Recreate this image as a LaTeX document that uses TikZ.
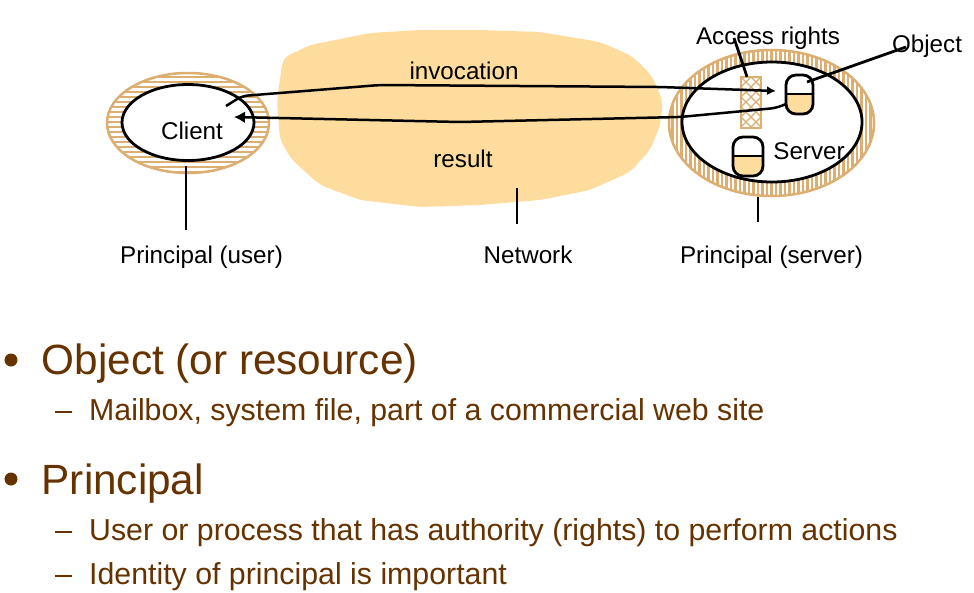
\documentclass[tikz,border=0pt]{standalone}
\usepackage{fontspec}
\setmainfont{Liberation Sans}
\usetikzlibrary{arrows.meta,calc}
\definecolor{tan1}{HTML}{DDAE72}
\definecolor{net}{HTML}{FDDC9E}
\definecolor{brown1}{HTML}{663300}
\tikzset{
  x=1pt,y=-1pt,
  lbl/.style={inner sep=0pt,font=\fontsize{24.2}{28}\selectfont,text=black,anchor=base},
  line1/.style={draw=black,line width=2.8pt},
  conn/.style={draw=black,line width=2.5pt,rounded corners=6pt},
  head1/.style={font=\fontsize{42.3}{48}\selectfont,text=brown1,inner sep=0pt,anchor=base west},
  sub1/.style={font=\fontsize{30.3}{36}\selectfont,text=brown1,inner sep=0pt,anchor=base west},
  bul/.style={circle,fill=brown1,inner sep=0pt,minimum size=13pt},
  dashm/.style={draw=brown1,line width=2.2pt},
  can/.style={draw=black,line width=2.8pt,rounded corners=10pt}
}
\begin{document}
\begin{tikzpicture}
\useasboundingbox (0,0) rectangle (974,592);
\fill[white] (0,0) rectangle (974,592);
% network
\fill[net,rounded corners=7pt] (283,58)--(310,45)--(370,33)--(420,30)--(480,30)--(540,32)--(600,42)--(632,56)--(652,76)--(663,102)--(660,126)--(650,150)--(630,172)--(590,190)--(540,200)--(480,205)--(420,207)--(360,200)--(320,185)--(292,160)--(280,140)--(277,100)--cycle;
% client ring
\begin{scope}
\clip (188,123) ellipse [x radius=82,y radius=51];
\fill[white] (100,65) rectangle (275,180);
\foreach \y in {72,77,...,175} \draw[tan1,line width=2.6pt] (100,\y) -- (275,\y);
\end{scope}
\draw[tan1,line width=2.5pt] (188,123) ellipse [x radius=81,y radius=50];
% server ring
\begin{scope}
\clip (771.5,123) ellipse [x radius=103.5,y radius=74];
\fill[white] (660,45) rectangle (880,200);
\foreach \x in {668,672.5,...,876} \draw[tan1,line width=2.4pt] (\x,45) -- (\x,200);
\end{scope}
\draw[tan1,line width=2.5pt] (771.5,123) ellipse [x radius=102.5,y radius=73];
% inner ellipses
\fill[white,line1] (188,122.5) ellipse [x radius=66,y radius=38];
\fill[white,line1] (772,122) ellipse [x radius=90,y radius=60];
% access rights
\node[fill=white,minimum width=20pt,minimum height=51pt,inner sep=0pt] (acc) at (751,102.5) {};
\begin{scope}
\clip (741,77) rectangle (761,128);
\foreach \k in {-20,-10,...,60} {
  \draw[tan1,line width=1.2pt] (741,77+\k) -- (761,97+\k);
  \draw[tan1,line width=1.2pt] (761,77+\k) -- (741,97+\k);
}
\end{scope}
\draw[tan1,line width=2pt] (741,77) rectangle (761,128);
% cans
\begin{scope}
\clip (786,94) rectangle (813,114);
\fill[net,rounded corners=10pt] (786,75) rectangle (813,114);
\end{scope}
\begin{scope}
\clip (733,156) rectangle (763,176);
\fill[net,rounded corners=10pt] (733,137) rectangle (763,176);
\end{scope}
\node[can,minimum width=27pt,minimum height=39pt,inner sep=0pt] (objcan) at (799.5,94.5) {};
\node[can,minimum width=30pt,minimum height=39pt,inner sep=0pt] (srvcan) at (748,156.5) {};
\draw[line1] (objcan.west |- 0,94) -- (objcan.east |- 0,94);
\draw[line1] (srvcan.west |- 0,156) -- (srvcan.east |- 0,156);
% labels
\node[lbl] (client) at (192,139) {Client};
\node[lbl] (server) at (809,159) {Server};
\node[lbl] (inv) at (464,79) {invocation};
\node[lbl] (res) at (463,167) {result};
\node[lbl] (ar) at (768,44) {Access rights};
\node[lbl] (ob) at (927,52) {Object};
\node[lbl] (pu) at (201.5,263) {Principal (user)};
\node[lbl] (nw) at (528,263) {Network};
\node[lbl] (ps) at (771.5,263) {Principal (server)};
% connectors
\coordinate (a1) at (226,106);
\coordinate (a2) at (776,91);
\coordinate (b1) at (786,104);
\coordinate (b2) at (234,117);
\draw[conn,-{Latex[length=9pt,width=9pt]}] (a1) -- (242,96) -- (380,85) -- (660,87) -- (a2);
\draw[conn,-{Latex[length=11pt,width=12pt]}] (b1) -- (776,108) -- (680,117) -- (460,122) -- (b2);
\coordinate (p1) at (186,166);
\coordinate (p2) at (186,230);
\coordinate (n1) at (517,188);
\coordinate (n2) at (517,224);
\coordinate (s1) at (758,197);
\coordinate (s2) at (758,222);
\draw[line1] (p1) -- (p2);
\draw[line1] (n1) -- (n2);
\draw[line1] (s1) -- (s2);
\coordinate (ar1) at (734,38);
\coordinate (ob1) at (906,47);
\draw[line1] (ar1) -- (acc.north -| 747,0);
\draw[line1] (ob1) -- (807,82);
% text
\node[bul] (b1a) at (11,360) {};
\node[head1] (h1) at (41.5,374) {Object (or resource)};
\draw[dashm] (55,412) -- (72,412);
\node[sub1] (s1a) at (89,420) {Mailbox, system file, part of a commercial web site};
\node[bul] (b2a) at (11,479) {};
\node[head1] (h2) at (41.5,494) {Principal};
\draw[dashm] (55,532) -- (72,532);
\node[sub1] (s2a) at (89,540) {User or process that has authority (rights) to perform actions};
\draw[dashm] (55,576) -- (72,576);
\node[sub1] (s3a) at (89,584) {Identity of principal is important};
\end{tikzpicture}
\end{document}
